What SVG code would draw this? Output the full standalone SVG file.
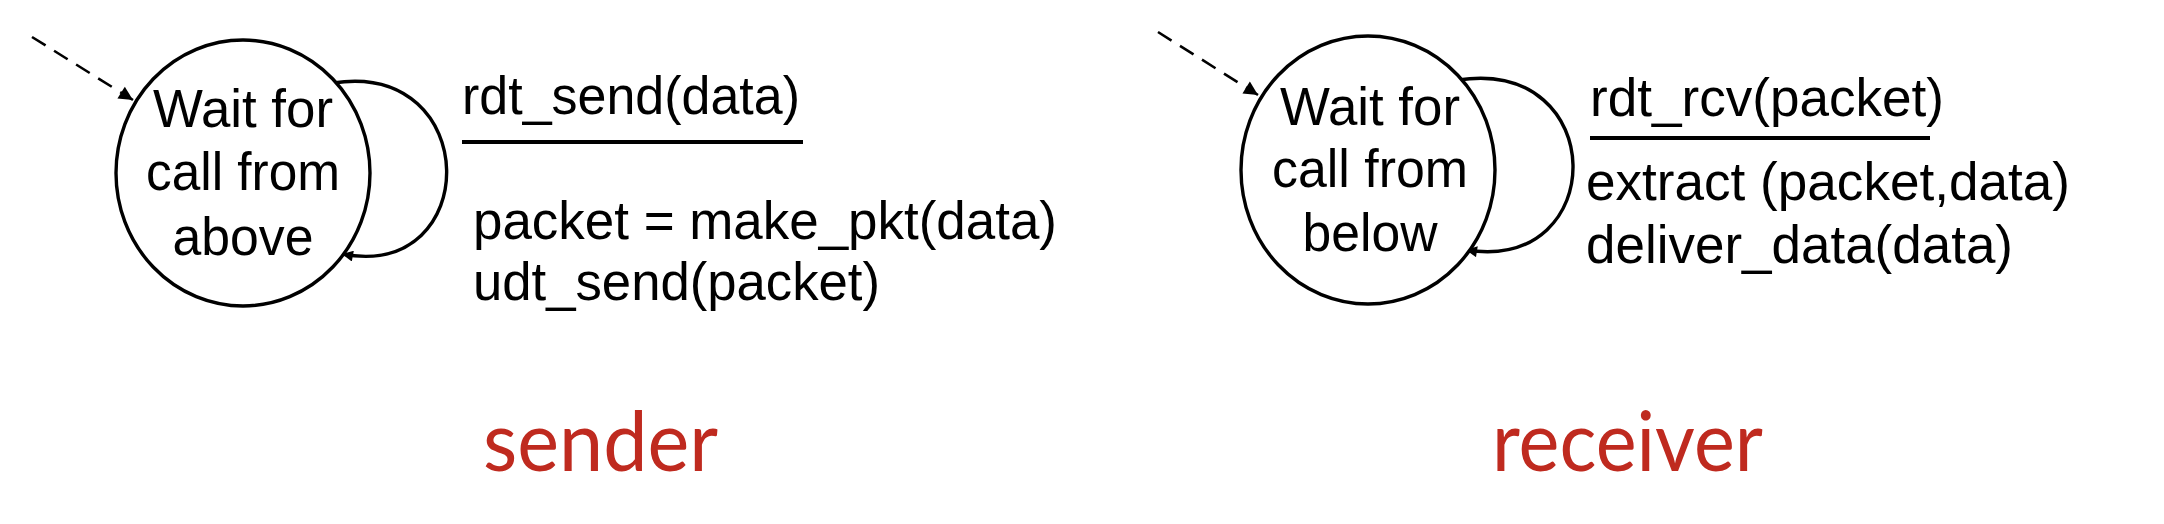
<svg xmlns="http://www.w3.org/2000/svg" width="2164" height="524" viewBox="0 0 2164 524">
<style>
.state{fill:#fff;stroke:#000;stroke-width:3.4}
.st{font-family:"Liberation Sans",Arial,sans-serif;font-size:53px;fill:#000;text-anchor:middle}
.lbl{font-family:"Liberation Sans",Arial,sans-serif;font-size:53px;fill:#000}
.loop{fill:none;stroke:#000;stroke-width:3.4}
.init{fill:none;stroke:#000;stroke-width:2.6;stroke-dasharray:16 10}
.bar{stroke:#000;stroke-width:4}
.title{font-family:Lato,"Open Sans",sans-serif;font-size:84px;fill:#BF2A1F}
</style>
<defs>
<marker id="ah" viewBox="0 0 10 10" refX="10" refY="5" markerUnits="userSpaceOnUse" markerWidth="18" markerHeight="14" orient="auto"><path d="M0,0 L10,5 L0,10 z" fill="#000"/></marker>
<marker id="ahs" viewBox="0 0 10 10" refX="10" refY="5" markerUnits="userSpaceOnUse" markerWidth="14" markerHeight="11" orient="auto"><path d="M0,0 L10,5 L0,10 z" fill="#000"/></marker>
</defs>
<g id="connectors">
<path class="init" d="M32 37 L133 100" marker-end="url(#ah)"/>
<path class="loop" d="M333 83 C483 60, 483 281, 342 254" marker-end="url(#ahs)"/>
<path class="init" d="M1158 32 L1258 95" marker-end="url(#ah)"/>
<path class="loop" d="M1458 80 C1610 57, 1610 273, 1466 250" marker-end="url(#ahs)"/>
</g>
<g id="sender-state">
<ellipse class="state" cx="243" cy="173" rx="127" ry="133"/>
<text class="st" x="243" y="127" textLength="180" lengthAdjust="spacingAndGlyphs">Wait for</text>
<text class="st" x="243" y="190" textLength="194" lengthAdjust="spacingAndGlyphs">call from</text>
<text class="st" x="243" y="255" textLength="141" lengthAdjust="spacingAndGlyphs">above</text>
</g>
<g id="sender-label">
<text class="lbl" x="462" y="114" textLength="338" lengthAdjust="spacingAndGlyphs">rdt_send(data)</text>
<line class="bar" x1="462" y1="142" x2="803" y2="142"/>
<text class="lbl" x="473" y="239" textLength="584" lengthAdjust="spacingAndGlyphs">packet = make_pkt(data)</text>
<text class="lbl" x="473" y="300" textLength="407" lengthAdjust="spacingAndGlyphs">udt_send(packet)</text>
</g>
<g id="receiver-state">
<ellipse class="state" cx="1368" cy="170" rx="127" ry="134"/>
<text class="st" x="1370" y="125" textLength="180" lengthAdjust="spacingAndGlyphs">Wait for</text>
<text class="st" x="1370" y="187" textLength="196" lengthAdjust="spacingAndGlyphs">call from</text>
<text class="st" x="1370" y="251" textLength="135" lengthAdjust="spacingAndGlyphs">below</text>
</g>
<g id="receiver-label">
<text class="lbl" x="1590" y="116" textLength="354" lengthAdjust="spacingAndGlyphs">rdt_rcv(packet)</text>
<line class="bar" x1="1590" y1="138" x2="1930" y2="138"/>
<text class="lbl" x="1586" y="200" textLength="484" lengthAdjust="spacingAndGlyphs">extract (packet,data)</text>
<text class="lbl" x="1586" y="263" textLength="427" lengthAdjust="spacingAndGlyphs">deliver_data(data)</text>
</g>
<g id="titles">
<text class="title" x="483" y="471" textLength="235" lengthAdjust="spacingAndGlyphs">sender</text>
<text class="title" x="1492" y="471" textLength="271" lengthAdjust="spacingAndGlyphs">receiver</text>
</g>
</svg>
